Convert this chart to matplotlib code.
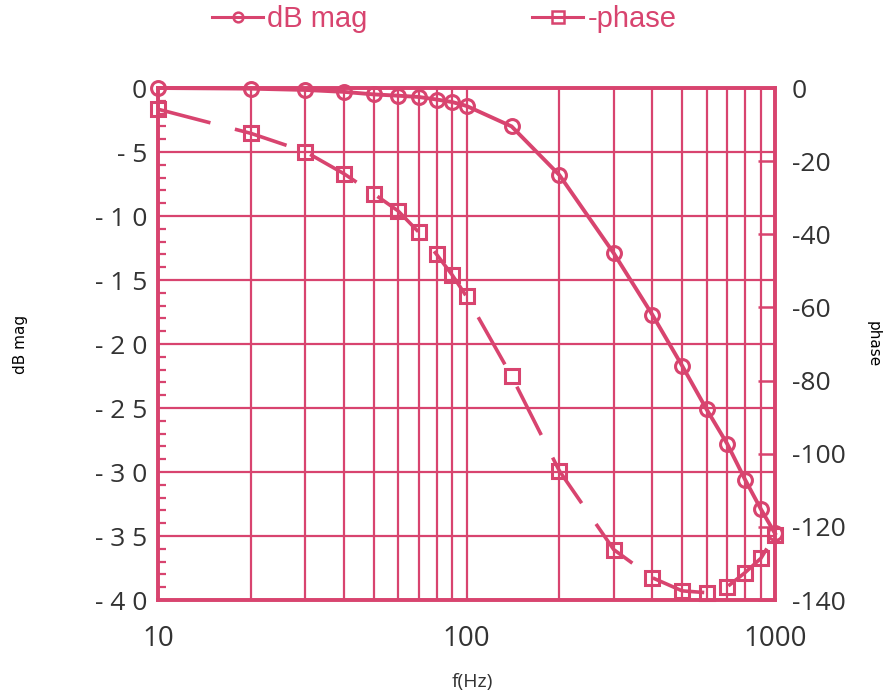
"""
Frequency response: dB magnitude and phase vs frequency (log scale)
"""

import matplotlib.pyplot as plt
from matplotlib.lines import Line2D
from matplotlib.ticker import FixedLocator, NullFormatter

# frequency points (Hz)
freq = [10, 20, 30, 40, 50, 60, 70, 80, 90, 100,
        140, 200, 300, 400, 500, 600, 700, 800, 900, 1000]

# magnitude (dB), left axis
db_mag = [0.0, -0.05, -0.15, -0.3, -0.5, -0.6, -0.7, -0.9, -1.1, -1.4,
          -3.0, -6.8, -12.9, -17.7, -21.7, -25.1, -27.8, -30.6, -32.9, -34.8]

# phase (deg), right axis
phase = [-5.8, -12.4, -17.4, -23.4, -28.9, -33.6, -39.4, -45.5, -51.2, -57.0,
         -78.8, -104.7, -126.2, -133.9, -137.5, -138.0, -136.4, -132.5, -128.6, -122.3]

left_ticks = [0, -5, -10, -15, -20, -25, -30, -35, -40]
left_labels = ["0", "- 5", "- 1 0", "- 1 5", "- 2 0", "- 2 5", "- 3 0", "- 3 5", "- 4 0"]
right_ticks = [0, -20, -40, -60, -80, -100, -120, -140]
right_labels = ["0", "-20", "-40", "-60", "-80", "-100", "-120", "-140"]
x_ticks = [10, 100, 1000]
x_labels = ["10", "100", "1000"]
legend_labels = ["dB mag", "-phase"]

PINK = "#d8446f"
TEXT = "#333333"
TICK_FONT = "Open Sans"

fig = plt.figure(figsize=(8.94, 6.99), dpi=100)
ax = fig.add_axes([158 / 894, 1 - 600 / 699, (775 - 158) / 894, (600 - 88) / 699])
ax2 = ax.twinx()

# magnitude curve
ax.plot(freq, db_mag, color=PINK, lw=2.8, marker="o", ms=10,
        mfc="none", mec=PINK, mew=2.2, zorder=5, clip_on=False)

# phase curve
ax2.plot(freq, phase, color=PINK, lw=2.6, ls=(0, (15, 7)), marker="s", ms=10.5,
         mfc="none", mec=PINK, mew=2.2, zorder=5, clip_on=False)

ax.set_xscale("log")
ax.set_xlim(10, 1000)
ax.set_ylim(-40, 0)
ax2.set_ylim(-140, 0)

# grid: every decade subdivision vertically, every 5 dB horizontally
ax.xaxis.set_major_locator(FixedLocator(x_ticks))
ax.xaxis.set_minor_locator(FixedLocator([v * d for d in (10, 100) for v in range(2, 10)]))
ax.xaxis.set_minor_formatter(NullFormatter())
ax.grid(which="both", axis="x", color=PINK, lw=1.6)
ax.grid(which="major", axis="y", color=PINK, lw=1.6)

ax.set_xticks(x_ticks)
ax.set_xticklabels(x_labels, fontsize=20, color=TEXT, family=TICK_FONT)
ax.set_yticks(left_ticks)
ax.set_yticklabels(left_labels, fontsize=19, color=TEXT, family=TICK_FONT)
ax.yaxis.set_minor_locator(FixedLocator(range(-40, 1)))
ax.tick_params(axis="y", which="major", direction="in", length=0, pad=8)
ax.tick_params(axis="y", which="minor", direction="in", length=6, width=1.6, color=PINK)
ax.tick_params(axis="x", which="both", length=0, pad=18)

ax2.set_yticks(right_ticks)
ax2.set_yticklabels(right_labels, fontsize=19, color=TEXT, family=TICK_FONT)
ax2.tick_params(axis="y", direction="in", length=12, width=1.8, color=PINK, pad=12)

for a in (ax, ax2):
    for sp in a.spines.values():
        sp.set_color(PINK)
        sp.set_linewidth(2.6)

ax.set_ylabel("dB mag", fontsize=11, color="black")
ax.yaxis.set_label_coords(-0.21, 0.5)
ax2.set_ylabel("phase", fontsize=11, color="black", rotation=270)
ax2.yaxis.set_label_coords(1.172, 0.5)
ax.set_xlabel("f(Hz)", fontsize=14, color=TEXT, family=TICK_FONT)
ax.xaxis.set_label_coords(0.51, -0.142)

# legend above the plot, one entry each
handles = [
    Line2D([], [], color=PINK, lw=2.2, marker="o", ms=7, mfc="none", mew=1.8),
    Line2D([], [], color=PINK, lw=2.2, marker="s", ms=8, mfc="none", mew=1.8),
]
for h, lab, x0 in zip(handles, legend_labels, (212, 532)):
    fig.legend([h], [lab], loc="center left",
               bbox_to_anchor=(x0 / 894, 1 - 19 / 699), frameon=False,
               prop={"family": "Liberation Sans", "size": 21},
               labelcolor=PINK, handlelength=1.75, handletextpad=0.15,
               borderpad=0, borderaxespad=0)

fig.savefig("out.png", dpi=100, facecolor="white")
